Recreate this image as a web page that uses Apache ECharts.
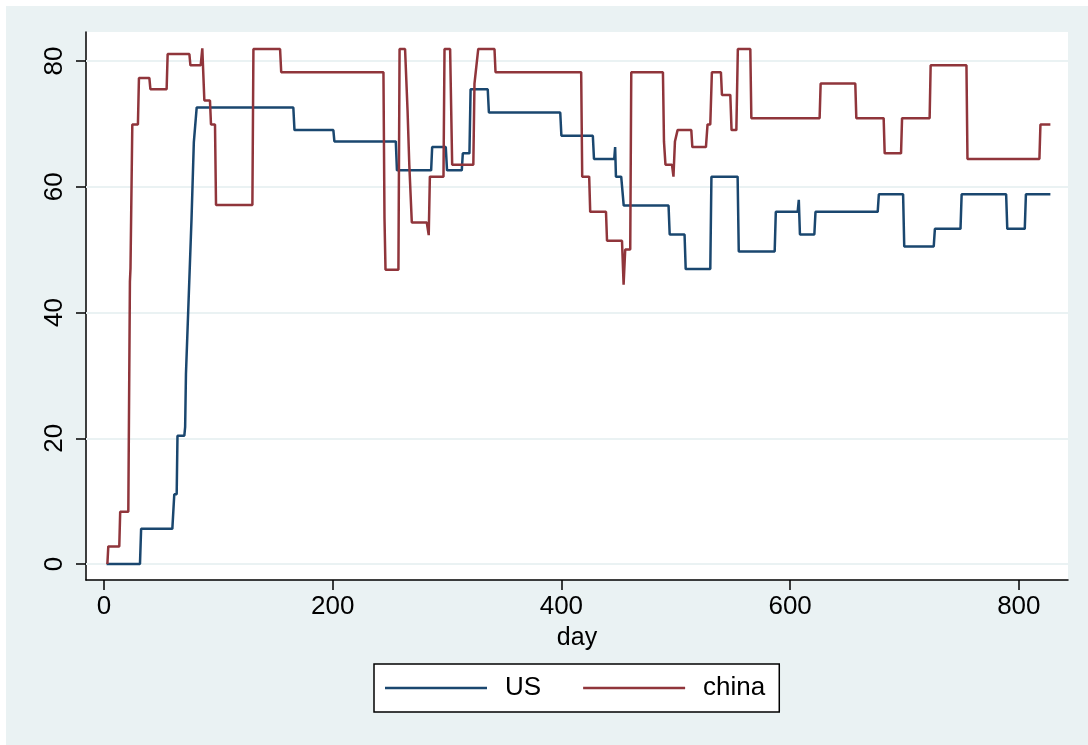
<!DOCTYPE html>
<html>
<head>
<meta charset="utf-8">
<script src="https://cdn.jsdelivr.net/npm/echarts@6/dist/echarts.min.js"></script>
<style>
  html, body { margin: 0; padding: 0; background: #ffffff; }
  #chart { position: absolute; left: 6px; top: 6px; width: 1082px; height: 739px; }
</style>
</head>
<body>
<div id="chart"></div>
<script>
// Tick values shown on each axis
const xTicks = [0, 200, 400, 600, 800];
const yTicks = [0, 20, 40, 60, 80];

// US series: day of each vertex and the value at that day
const usDay = [2.3, 31.5, 32.5, 59.8, 61.5, 63.6, 64.3, 70.3, 71, 71.7, 76, 76.6, 78.6, 79.5, 81.1,
  165.6, 166.6, 200.6, 201.5, 255.2, 256.2, 286.1, 287, 298.9, 300, 312.9, 313.8, 319.6, 320.6,
  335.6, 336.6, 399, 400, 427.5, 428.5, 446.2, 447, 447.7, 452.3, 454.5, 493.7, 494.7, 507.7,
  508.7, 530.2, 531.2, 554.1, 555.1, 586.5, 587.5, 606.6, 607.6, 608.6, 621.2, 622.2, 676.6,
  677.6, 698.8, 699.8, 725.6, 726.6, 749, 750, 788.9, 789.9, 805.2, 806.2, 827.6];
const usVal = [0, 0, 5.6, 5.6, 11.1, 11.1, 20.4, 20.4, 21.8, 30.2, 52, 55, 67.1, 67.1, 72.6,
  72.6, 69.0, 69.0, 67.2, 67.2, 62.6, 62.6, 66.3, 66.3, 62.6, 62.6, 65.3, 65.3, 75.5,
  75.5, 71.8, 71.8, 68.1, 68.1, 64.4, 64.4, 66.3, 61.6, 61.6, 57.0, 57.0, 52.4, 52.4,
  46.9, 46.9, 61.6, 61.6, 49.7, 49.7, 56.0, 56.0, 57.9, 52.4, 52.4, 56.0, 56.0,
  58.8, 58.8, 50.5, 50.5, 53.3, 53.3, 58.8, 58.8, 53.3, 53.3, 58.8, 58.8];

// China series: day of each vertex and the value at that day
const chinaDay = [3, 3.8, 13.4, 14.2, 21.3, 22.7, 23.2, 24.8, 29.7, 30.6, 39.7, 40.6, 54.8, 55.7,
  74.7, 75.6, 84.6, 86, 87.8, 92.7, 93.6, 97.1, 98, 129.8, 130.7, 154, 155, 244.4, 245.3, 246.2,
  257.5, 258.5, 263.3, 265.5, 267, 268.4, 269.2, 282.3, 284, 285, 296.9, 297.8, 302.7, 304.5,
  323, 324, 325.5, 327.3, 341.5, 342.4, 417.3, 418.2, 424.3, 425.2, 439, 439.9, 453, 454.4,
  455.8, 460.2, 461.1, 488.8, 489.7, 491, 496.7, 498, 499.3, 501.6, 513.6, 514.5, 526.4,
  527.8, 530.2, 531.6, 539.5, 540.4, 547.7, 548.8, 553, 554.3, 565.2, 566.1, 625.8, 626.7,
  657, 657.9, 681.8, 682.7, 697, 697.9, 722, 722.9, 754.2, 755.1, 818, 818.9, 827.6];
const chinaVal = [0, 2.8, 2.8, 8.3, 8.3, 44.9, 47, 69.9, 69.9, 77.3, 77.3, 75.5, 75.5, 81.1,
  81.1, 79.3, 79.3, 82.0, 73.7, 73.7, 69.9, 69.9, 57.1, 57.1, 81.9, 81.9, 78.2, 78.2, 55.1, 46.8,
  46.8, 81.9, 81.9, 72, 63.5, 63.5, 54.3, 54.3, 52.3, 61.6, 61.6, 81.9, 81.9, 63.5,
  63.5, 76.4, 76.4, 81.9, 81.9, 78.2, 78.2, 61.6, 61.6, 56.0, 56.0, 51.4, 51.4, 44.4,
  50.0, 50.0, 78.2, 78.2, 67.2, 63.5, 63.5, 61.6, 67.2, 69.0, 69.0, 66.3, 66.3,
  69.9, 69.9, 78.2, 78.2, 74.6, 74.6, 69.0, 69.0, 81.9, 81.9, 70.9, 70.9, 76.4,
  76.4, 70.9, 70.9, 65.3, 65.3, 70.9, 70.9, 79.3, 79.3, 64.4, 64.4, 69.9, 69.9];

const pairs = (xs, ys) => xs.map((x, i) => [x, ys[i]]);

const FONT = '"Liberation Sans", Arial, sans-serif';
const BG = '#eaf2f3';

const chart = echarts.init(document.getElementById('chart'), null, { renderer: 'canvas' });
chart.setOption({
  backgroundColor: BG,
  animation: false,
  textStyle: { fontFamily: FONT, color: '#000' },
  grid: {
    left: 80, right: 20, top: 26, bottom: 165,
    show: true, backgroundColor: '#ffffff', borderWidth: 0
  },
  xAxis: {
    type: 'value',
    min: -15.7, max: 843,
    name: 'day',
    nameLocation: 'middle',
    nameGap: 46,
    nameTextStyle: { fontSize: 25, fontFamily: FONT, color: '#000' },
    axisLine: { show: true, onZero: false, lineStyle: { color: '#000', width: 1.5 } },
    axisTick: { show: true, length: 10, customValues: xTicks, lineStyle: { color: '#000', width: 1.5 } },
    axisLabel: { customValues: xTicks, fontSize: 26, margin: 14, color: '#000', fontFamily: FONT },
    splitLine: { show: false }
  },
  yAxis: {
    type: 'value',
    min: -2.54, max: 84.6,
    axisLine: { show: true, onZero: false, lineStyle: { color: '#000', width: 1.5 } },
    axisTick: { show: true, length: 10, customValues: yTicks, lineStyle: { color: '#000', width: 1.5 } },
    axisLabel: { customValues: yTicks, fontSize: 26, rotate: 90, margin: 18, color: '#000', fontFamily: FONT },
    splitLine: { show: false }
  },
  legend: {
    left: 368, top: 658,
    orient: 'horizontal',
    backgroundColor: '#ffffff',
    borderColor: '#000',
    borderWidth: 1.5,
    borderRadius: 0,
    padding: [11, 14, 11, 11],
    icon: 'rect',
    itemWidth: 102,
    itemHeight: 2.5,
    itemGap: 42,
    textStyle: { fontSize: 26, fontFamily: FONT, color: '#000', padding: [0, 0, 0, 13] },
    data: ['US', 'china']
  },
  series: [
    {
      name: 'US',
      type: 'line',
      data: pairs(usDay, usVal),
      symbol: 'none',
      showSymbol: false,
      z: 3,
      lineStyle: { color: '#1a476f', width: 2.5 },
      itemStyle: { color: '#1a476f' },
      // horizontal grid lines at the y ticks
      markLine: {
        silent: true,
        symbol: ['none', 'none'],
        label: { show: false },
        z: 1,
        lineStyle: { color: BG, width: 2, type: 'solid' },
        data: yTicks.map(v => ({ yAxis: v }))
      }
    },
    {
      name: 'china',
      type: 'line',
      data: pairs(chinaDay, chinaVal),
      symbol: 'none',
      showSymbol: false,
      z: 4,
      lineStyle: { color: '#90353b', width: 2.5 },
      itemStyle: { color: '#90353b' }
    }
  ]
});
</script>
</body>
</html>
